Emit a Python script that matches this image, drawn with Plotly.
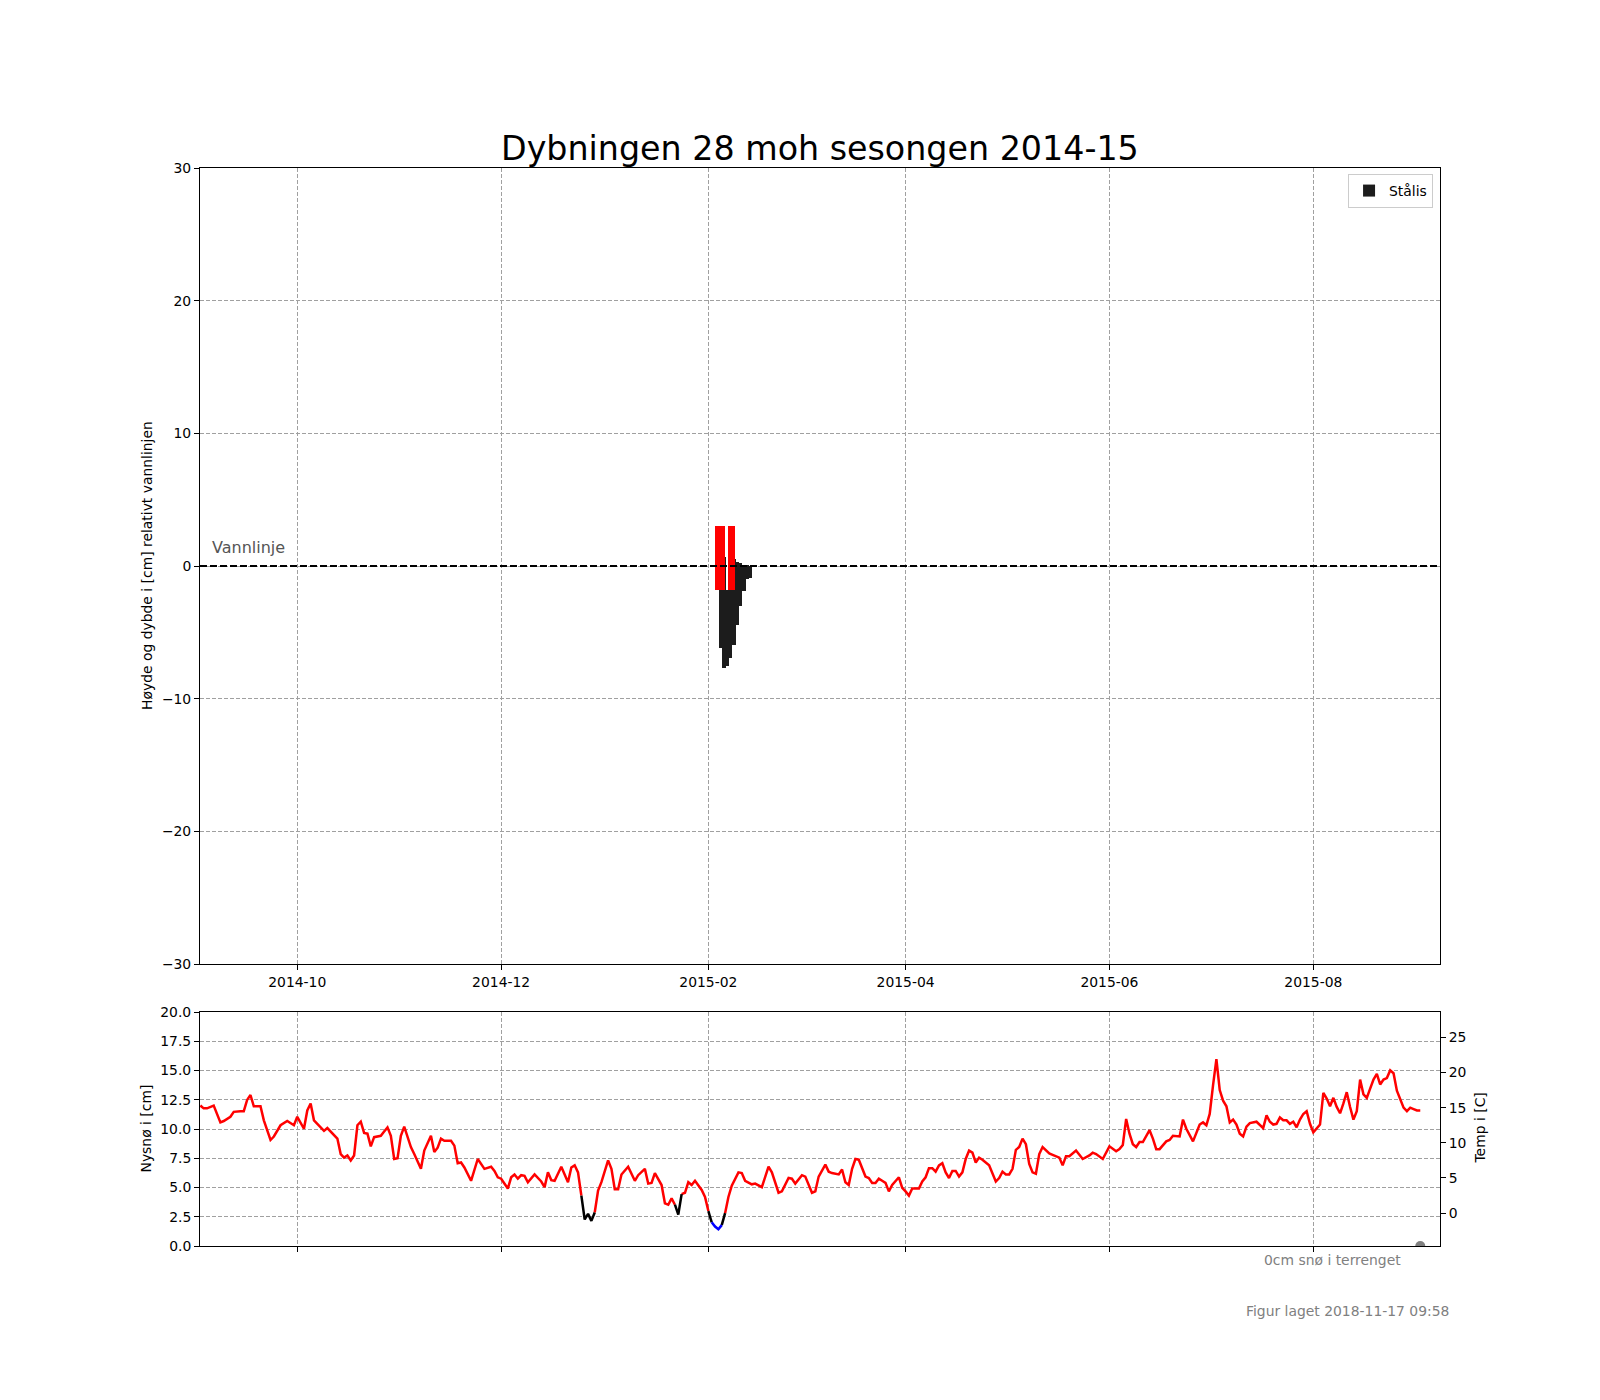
import plotly.graph_objects as go

# --- data ---------------------------------------------------------------------
# ice bars (cm relative to the water line)
ice_dates = ['2015-02-04', '2015-02-05', '2015-02-06', '2015-02-07', '2015-02-08',
             '2015-02-09', '2015-02-10', '2015-02-11', '2015-02-12', '2015-02-13']
ice_top = [-1.8, 0.7, -1.8, -1.8, 0.5, 0.3, 0.2, 0.1, 0.05, 0.0]
ice_bottom = [-6.2, -7.66, -7.5, -6.9, -5.95, -4.45, -3.0, -1.9, -1.0, -0.9]

slush_dates = ['2015-02-03', '2015-02-04', '2015-02-05', '2015-02-07', '2015-02-08']
slush_bottom = [-1.8, -1.8, -1.8, -1.8, -1.8]
slush_top = [3.0, 3.0, 3.0, 3.0, 3.0]

water_level = 0

# air temperature (C)
temp_dates = [
    '2014-09-02', '2014-09-03', '2014-09-04', '2014-09-06', '2014-09-08', '2014-09-09',
    '2014-09-11', '2014-09-12', '2014-09-14', '2014-09-15', '2014-09-16', '2014-09-17',
    '2014-09-18', '2014-09-20', '2014-09-21', '2014-09-23', '2014-09-24', '2014-09-26',
    '2014-09-28', '2014-09-30', '2014-10-01', '2014-10-03', '2014-10-04', '2014-10-05',
    '2014-10-06', '2014-10-07', '2014-10-09', '2014-10-10', '2014-10-11', '2014-10-13',
    '2014-10-14', '2014-10-15', '2014-10-16', '2014-10-17', '2014-10-18', '2014-10-19',
    '2014-10-20', '2014-10-21', '2014-10-22', '2014-10-23', '2014-10-24', '2014-10-26',
    '2014-10-27', '2014-10-28', '2014-10-29', '2014-10-30', '2014-10-31', '2014-11-01',
    '2014-11-02', '2014-11-04', '2014-11-05', '2014-11-07', '2014-11-08', '2014-11-10',
    '2014-11-11', '2014-11-12', '2014-11-13', '2014-11-14', '2014-11-16', '2014-11-17',
    '2014-11-18', '2014-11-19', '2014-11-20', '2014-11-22', '2014-11-24', '2014-11-26',
    '2014-11-28', '2014-11-29', '2014-11-30', '2014-12-01', '2014-12-03', '2014-12-04',
    '2014-12-05', '2014-12-06', '2014-12-07', '2014-12-08', '2014-12-09', '2014-12-11',
    '2014-12-13', '2014-12-14', '2014-12-15', '2014-12-16', '2014-12-17', '2014-12-19',
    '2014-12-21', '2014-12-22', '2014-12-23', '2014-12-24', '2014-12-25', '2014-12-26',
    '2014-12-27', '2014-12-28', '2014-12-29', '2014-12-30', '2014-12-31', '2015-01-02',
    '2015-01-03', '2015-01-04', '2015-01-05', '2015-01-06', '2015-01-08', '2015-01-10',
    '2015-01-11', '2015-01-13', '2015-01-14', '2015-01-15', '2015-01-16', '2015-01-18',
    '2015-01-19', '2015-01-20', '2015-01-21', '2015-01-22', '2015-01-23', '2015-01-24',
    '2015-01-25', '2015-01-26', '2015-01-27', '2015-01-28', '2015-01-29', '2015-01-30',
    '2015-01-31', '2015-02-01', '2015-02-02', '2015-02-03', '2015-02-04', '2015-02-05',
    '2015-02-06', '2015-02-07', '2015-02-08', '2015-02-10', '2015-02-11', '2015-02-12',
    '2015-02-14', '2015-02-15', '2015-02-17', '2015-02-19', '2015-02-20', '2015-02-22',
    '2015-02-23', '2015-02-25', '2015-02-26', '2015-02-27', '2015-03-01', '2015-03-02',
    '2015-03-04', '2015-03-05', '2015-03-06', '2015-03-08', '2015-03-09', '2015-03-10',
    '2015-03-12', '2015-03-13', '2015-03-14', '2015-03-15', '2015-03-16', '2015-03-17',
    '2015-03-18', '2015-03-20', '2015-03-21', '2015-03-22', '2015-03-23', '2015-03-24',
    '2015-03-25', '2015-03-26', '2015-03-27', '2015-03-28', '2015-03-30', '2015-03-31',
    '2015-04-01', '2015-04-02', '2015-04-03', '2015-04-05', '2015-04-06', '2015-04-07',
    '2015-04-08', '2015-04-09', '2015-04-10', '2015-04-11', '2015-04-12', '2015-04-13',
    '2015-04-14', '2015-04-15', '2015-04-16', '2015-04-17', '2015-04-18', '2015-04-19',
    '2015-04-20', '2015-04-21', '2015-04-22', '2015-04-23', '2015-04-24', '2015-04-26',
    '2015-04-28', '2015-04-29', '2015-04-30', '2015-05-01', '2015-05-02', '2015-05-03',
    '2015-05-04', '2015-05-05', '2015-05-06', '2015-05-07', '2015-05-08', '2015-05-09',
    '2015-05-10', '2015-05-11', '2015-05-12', '2015-05-14', '2015-05-15', '2015-05-17',
    '2015-05-18', '2015-05-19', '2015-05-20', '2015-05-22', '2015-05-24', '2015-05-26',
    '2015-05-27', '2015-05-28', '2015-05-30', '2015-06-01', '2015-06-03', '2015-06-04',
    '2015-06-05', '2015-06-06', '2015-06-07', '2015-06-08', '2015-06-09', '2015-06-10',
    '2015-06-11', '2015-06-13', '2015-06-14', '2015-06-15', '2015-06-16', '2015-06-18',
    '2015-06-19', '2015-06-20', '2015-06-22', '2015-06-23', '2015-06-24', '2015-06-26',
    '2015-06-28', '2015-06-29', '2015-06-30', '2015-07-01', '2015-07-02', '2015-07-03',
    '2015-07-04', '2015-07-05', '2015-07-06', '2015-07-07', '2015-07-08', '2015-07-09',
    '2015-07-10', '2015-07-11', '2015-07-12', '2015-07-13', '2015-07-15', '2015-07-16',
    '2015-07-17', '2015-07-18', '2015-07-19', '2015-07-20', '2015-07-21', '2015-07-22',
    '2015-07-23', '2015-07-24', '2015-07-25', '2015-07-26', '2015-07-27', '2015-07-28',
    '2015-07-29', '2015-07-30', '2015-07-31', '2015-08-01', '2015-08-02', '2015-08-03',
    '2015-08-04', '2015-08-05', '2015-08-06', '2015-08-07', '2015-08-08', '2015-08-09',
    '2015-08-10', '2015-08-11', '2015-08-12', '2015-08-13', '2015-08-14', '2015-08-15',
    '2015-08-16', '2015-08-17', '2015-08-18', '2015-08-19', '2015-08-20', '2015-08-21',
    '2015-08-22', '2015-08-23', '2015-08-24', '2015-08-25', '2015-08-26', '2015-08-27',
    '2015-08-28', '2015-08-29', '2015-08-30', '2015-08-31', '2015-09-01', '2015-09-02',
]
temp_values = [
    15.3, 14.9, 14.9, 15.3, 12.9, 13.1,
    13.7, 14.4, 14.5, 14.5, 16.1, 16.8,
    15.2, 15.2, 13.2, 10.4, 10.9, 12.5,
    13.1, 12.5, 13.7, 12.0, 14.6, 15.6,
    13.2, 12.7, 11.7, 12.1, 11.6, 10.6,
    8.4, 7.9, 8.2, 7.5, 8.2, 12.5,
    13.0, 11.4, 11.3, 9.5, 10.8, 11.0,
    11.6, 12.2, 11.0, 7.7, 7.8, 11.0,
    12.3, 9.4, 8.4, 6.3, 8.9, 11.0,
    8.7, 9.3, 10.6, 10.3, 10.3, 9.6,
    7.1, 7.2, 6.5, 4.6, 7.7, 6.3,
    6.6, 6.0, 5.1, 4.9, 3.5, 5.1,
    5.5, 4.9, 5.4, 5.3, 4.4, 5.5,
    4.5, 3.7, 5.8, 4.7, 4.6, 6.6,
    4.4, 6.5, 6.8, 5.8, 2.5, -0.9,
    -0.1, -1.1, 0.1, 3.2, 4.4, 7.5,
    6.3, 3.4, 3.4, 5.5, 6.6, 4.6,
    5.4, 6.3, 4.2, 4.3, 5.7, 4.0,
    1.4, 1.2, 2.1, 1.2, -0.2, 2.7,
    2.9, 4.4, 4.0, 4.6, 4.0, 3.3,
    2.3, 0.3, -1.3, -1.9, -2.3, -1.7,
    0.0, 2.3, 3.9, 5.8, 5.7, 4.6,
    4.1, 4.2, 3.7, 6.6, 5.8, 2.9,
    3.1, 5.0, 4.9, 4.2, 5.4, 5.2,
    2.9, 3.1, 5.2, 6.9, 5.9, 5.7,
    5.5, 6.2, 4.4, 4.0, 6.3, 7.7,
    7.6, 5.2, 5.0, 4.3, 4.3, 4.9,
    4.6, 4.3, 3.1, 4.0, 5.1, 3.6,
    3.1, 2.5, 3.5, 3.5, 4.5, 5.1,
    6.4, 6.4, 5.9, 6.8, 7.1, 5.8,
    5.0, 6.0, 6.0, 5.2, 5.8, 7.7,
    8.9, 8.6, 7.2, 7.9, 7.6, 6.8,
    4.5, 5.0, 5.9, 5.5, 5.5, 6.3,
    9.0, 9.4, 10.6, 9.8, 7.0, 5.8,
    5.6, 8.4, 9.4, 8.5, 8.3, 7.9,
    6.8, 8.1, 8.1, 8.9, 7.7, 8.2,
    8.6, 8.4, 7.7, 9.5, 8.8, 9.1,
    9.7, 13.4, 11.3, 9.8, 9.4, 10.1,
    10.1, 11.8, 10.6, 9.1, 9.1, 10.2,
    10.4, 11.0, 10.9, 13.3, 12.0, 10.2,
    12.6, 12.9, 12.5, 14.1, 18.2, 21.9,
    17.5, 16.0, 15.2, 12.9, 13.3, 12.6,
    11.3, 10.9, 12.3, 12.8, 13.0, 12.6,
    12.1, 13.9, 13.0, 12.6, 12.7, 13.6,
    13.2, 13.2, 12.7, 13.0, 12.2, 13.3,
    14.1, 14.5, 12.7, 11.5, 12.0, 12.6,
    17.1, 16.3, 15.2, 16.4, 15.1, 14.2,
    15.6, 17.2, 15.1, 13.3, 14.5, 19.0,
    16.9, 16.4, 17.7, 19.0, 19.8, 18.3,
    19.0, 19.2, 20.3, 19.9, 17.4, 16.3,
    15.0, 14.5, 15.0, 14.8, 14.6, 14.6,
]

# new snow on the ground (cm)
snow_dates = ['2015-09-02']
snow_values = [0]

month_ticks = ['2014-10-01', '2014-12-01', '2015-02-01', '2015-04-01', '2015-06-01', '2015-08-01']
month_labels = ['2014-10', '2014-12', '2015-02', '2015-04', '2015-06', '2015-08']

x_range = ['2014-09-01 21:36', '2015-09-07 21:36']

FONT = 'DejaVu Sans'
DAY_MS = 86400000
GRID = dict(showgrid=True, gridcolor='#a0a0a0', gridwidth=1, griddash='4px,2px')
AX = dict(showline=True, linecolor='black', linewidth=1, mirror=True,
          ticks='outside', ticklen=5, tickcolor='black', zeroline=False,
          tickfont=dict(size=13.9, color='black'))

# the page body adds 8px around the figure, so the figure is 16px smaller
# and the plot area is moved up/left by 8px
PAGE = 8
PLOT_L, PLOT_T, PLOT_W, PLOT_H = 200, 168, 1240, 1078


def seg_color(a, b):
    lo = min(a, b)
    if lo >= 0:
        return 'red'
    if lo >= -1.8:
        return 'black'
    return 'blue'


def colour_runs(xs, ys):
    """split the temperature line into pieces that share one colour"""
    out = {'red': ([], []), 'black': ([], []), 'blue': ([], [])}
    i = 0
    n = len(ys)
    while i < n - 1:
        c = seg_color(ys[i], ys[i + 1])
        j = i
        while j < n - 1 and seg_color(ys[j], ys[j + 1]) == c:
            j += 1
        px, py = out[c]
        if px:
            px.append(None)
            py.append(None)
        px.extend(xs[i:j + 1])
        py.extend(ys[i:j + 1])
        i = j
    return out


fig = go.Figure()

# water line (drawn first so the ice bars cover it)
fig.add_trace(go.Scatter(
    x=x_range, y=[water_level, water_level], mode='lines',
    line=dict(color='black', width=2, dash='7px,3px'),
    showlegend=False, xaxis='x', yaxis='y', hoverinfo='skip',
))

fig.add_trace(go.Bar(
    x=ice_dates,
    y=[b - t for t, b in zip(ice_top, ice_bottom)],
    base=ice_top,
    width=DAY_MS, offset=0.2 * DAY_MS,
    marker=dict(color='#1c1c1c', line=dict(width=0)),
    name='Stålis', xaxis='x', yaxis='y',
))
fig.add_trace(go.Bar(
    x=slush_dates,
    y=[t - b for t, b in zip(slush_top, slush_bottom)],
    base=slush_bottom,
    width=0.97 * DAY_MS, offset=0,
    marker=dict(color='#ff0000', line=dict(width=0)),
    showlegend=False, xaxis='x', yaxis='y',
))

for colour, (px, py) in colour_runs(temp_dates, temp_values).items():
    fig.add_trace(go.Scatter(
        x=px, y=py, mode='lines',
        line=dict(color={'red': '#ff0000', 'black': 'black', 'blue': '#0000ff'}[colour], width=2.5),
        showlegend=False, xaxis='x2', yaxis='y3',
    ))

fig.add_trace(go.Scatter(
    x=snow_dates, y=snow_values, mode='markers',
    marker=dict(color='#808080', size=10),
    showlegend=False, xaxis='x2', yaxis='y2',
))

main_bottom = (1246 - 964) / 1078
low_top = (1246 - 1012) / 1078

fig_w, fig_h = 1600 - 2 * PAGE, 1400 - 2 * PAGE
m_l = PLOT_L - PAGE
m_t = PLOT_T - PAGE
fig.update_layout(
    width=fig_w, height=fig_h,
    margin=dict(l=m_l, r=fig_w - m_l - PLOT_W, t=m_t, b=fig_h - m_t - PLOT_H, pad=0),
    paper_bgcolor='white', plot_bgcolor='white',
    font=dict(family=FONT, size=13.9, color='black'),
    barmode='overlay', bargap=0,
    xaxis=dict(range=x_range, type='date', anchor='y',
               tickvals=month_ticks, ticktext=month_labels, **GRID, **AX),
    yaxis=dict(range=[-30, 30], domain=[main_bottom, 1], anchor='x',
               tickvals=[-30, -20, -10, 0, 10, 20, 30], **GRID, **AX),
    xaxis2=dict(range=x_range, type='date', anchor='y2', matches='x',
                tickvals=month_ticks, showticklabels=False, **GRID, **AX),
    yaxis2=dict(range=[0, 20], domain=[0, low_top], anchor='x2',
                tickvals=[0, 2.5, 5, 7.5, 10, 12.5, 15, 17.5, 20], tickformat='.1f',
                **GRID, **AX),
    yaxis3=dict(range=[-4.67, 28.6], overlaying='y2', side='right', anchor='x2',
                tickvals=[0, 5, 10, 15, 20, 25], showgrid=False,
                showline=True, linecolor='black', linewidth=1,
                ticks='outside', ticklen=5, tickcolor='black', zeroline=False,
                tickfont=dict(size=13.9, color='black')),
    legend=dict(x=0.9944, y=0.9944, xanchor='right', yanchor='top',
                bgcolor='white', bordercolor='#cccccc', borderwidth=1,
                font=dict(size=13.9)),
    showlegend=True,
)


def px_x(p):
    return (p - PLOT_L) / PLOT_W


def px_y(p):
    return (PLOT_T + PLOT_H - p) / PLOT_H


notes = [
    dict(text='Dybningen 28 moh sesongen 2014-15', x=0.5, y=px_y(149), size=33.3,
         color='black', xanchor='center', angle=0),
    dict(text='Høyde og dybde i [cm] relativt vannlinjen', x=px_x(147), y=px_y(566),
         size=13.9, color='black', xanchor='center', angle=-90),
    dict(text='Nysnø i [cm]', x=px_x(145), y=px_y(1128.5), size=13.9,
         color='black', xanchor='center', angle=-90),
    dict(text='Temp i [C]', x=px_x(1479), y=px_y(1128.5), size=13.9,
         color='black', xanchor='center', angle=-90),
    dict(text='Vannlinje', x=px_x(210), y=px_y(547), size=16, color='#555555',
         xanchor='left', angle=0),
    dict(text='0cm snø i terrenget', x=px_x(1403), y=px_y(1260), size=13.9,
         color='#808080', xanchor='right', angle=0),
    dict(text='Figur laget 2018-11-17 09:58', x=px_x(1451), y=px_y(1311), size=13.9,
         color='#808080', xanchor='right', angle=0),
]
for n in notes:
    fig.add_annotation(text=n['text'], xref='paper', yref='paper', x=n['x'], y=n['y'],
                       xanchor=n['xanchor'], yanchor='middle', textangle=n['angle'],
                       showarrow=False, font=dict(family=FONT, size=n['size'], color=n['color']))

fig.write_html('out.html')
